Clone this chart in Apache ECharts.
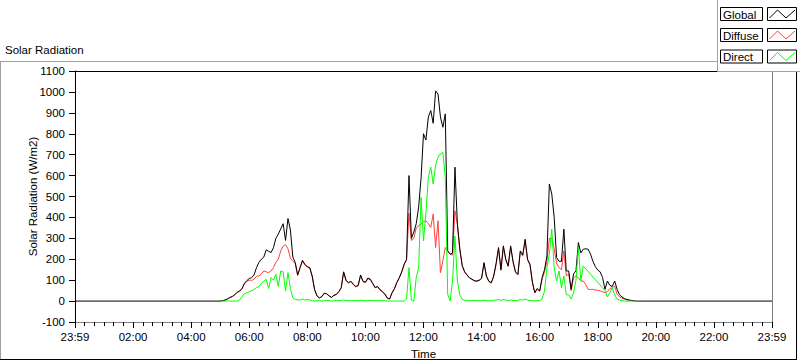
<!DOCTYPE html>
<html><head><meta charset="utf-8">
<script src="https://cdn.jsdelivr.net/npm/echarts@6/dist/echarts.min.js"></script>
<style>html,body{margin:0;padding:0;background:#fff}#c{width:800px;height:361px}</style>
</head><body><div id="c"></div>
<script>
// time of day in minutes (0 = 23:59 of previous day, 1440 = 23:59)
const timeMin = [0,
 300,305,310,315,320,325,330,335,340,345,350,355,
 360,365,370,375,380,385,390,395,400,405,410,415,
 420,425,430,435,440,445,450,455,460,465,470,475,
 480,485,490,495,500,505,510,515,520,525,530,535,
 540,545,550,555,560,565,570,575,580,585,590,595,
 600,605,610,615,620,625,630,635,640,645,650,655,
 660,665,670,675,680,685,690,695,700,705,710,715,
 720,725,730,735,740,745,750,755,760,765,770,775,
 780,785,790,795,800,805,810,815,820,825,830,835,
 840,845,850,855,860,865,870,875,880,885,890,895,
 900,905,910,915,920,925,930,935,940,945,950,955,
 960,965,970,975,980,985,990,995,1000,1005,1010,1015,
 1020,1025,1030,1035,1040,1045,1050,1055,1060,1065,1070,1075,
 1080,1085,1090,1095,1100,1105,1110,1115,1120,1125,1130,1135,
 1140,1145,1150,1155,1160,1165,1170,
 1440];

const globalRad = [0,
 0,2,5,10,17,22,30,42,48,60,85,98,
 108,112,125,160,185,200,210,245,238,232,255,300,
 320,345,370,290,395,340,210,185,125,160,195,175,
 165,160,120,55,25,15,22,38,35,25,18,28,
 32,45,64,140,100,88,95,80,70,75,125,95,
 90,110,105,85,65,70,55,45,35,15,10,40,
 60,90,112,140,176,200,600,300,330,370,450,590,
 800,770,880,911,850,1005,990,880,831,895,240,224,
 230,640,368,250,170,140,125,112,105,98,96,100,
 110,184,120,95,88,120,180,256,150,264,200,168,
 264,190,140,128,240,220,296,200,176,90,40,60,
 48,112,150,216,560,512,400,208,190,190,344,144,
 144,56,130,145,280,230,248,250,248,225,190,165,
 148,140,112,56,96,75,70,96,56,30,20,12,
 8,5,3,1,0,0,0,
 0];

const diffuseRad = [null,
 0,2,5,10,17,22,30,42,47,58,82,95,
 100,99,105,118,120,130,144,140,136,144,160,185,
 200,240,262,270,250,205,190,180,122,158,192,172,
 162,158,118,53,24,14,21,37,34,24,17,27,
 31,44,62,137,97,86,93,78,68,73,122,93,
 88,107,102,83,63,68,53,44,34,14,9,38,
 58,88,110,138,173,196,420,290,300,350,360,368,
 380,384,370,352,416,256,384,136,192,256,240,224,
 220,432,368,245,168,138,123,110,103,96,94,98,
 107,180,117,93,86,117,176,250,147,258,196,165,
 258,186,137,125,235,215,290,196,172,88,39,58,
 47,105,140,190,300,300,250,180,160,150,240,120,
 130,50,110,120,112,96,96,80,56,56,56,52,
 52,48,45,40,45,60,64,72,32,20,14,10,
 6,4,2,1,null,null,null,
 null];

const directRad = [null,
 0,0,0,0,0,0,0,0,5,20,35,40,
 45,50,55,64,70,85,95,104,60,112,100,128,
 70,144,140,48,136,60,16,8,6,5,10,5,
 8,5,3,0,2,2,0,2,3,2,0,2,
 2,3,3,5,3,2,2,3,2,2,4,2,
 2,2,3,2,2,2,2,2,2,0,0,0,
 0,0,0,0,0,10,160,5,0,112,160,496,
 288,420,592,640,560,650,688,704,711,592,32,0,
 96,310,96,30,8,4,3,2,2,3,2,2,
 2,4,2,2,2,4,5,8,3,8,5,3,
 5,3,2,3,8,5,10,4,3,2,1,2,
 2,10,48,160,224,344,160,96,144,64,120,30,
 30,10,40,100,256,96,168,null,null,null,null,null,
 null,null,null,50,20,40,64,30,10,5,3,0,
 0,0,0,0,null,null,null,
 null];

const seriesNames = ['Global', 'Diffuse', 'Direct'];
const seriesColors = ['#000000', '#ff4040', '#00ff00'];
const seriesZ = [3, 2, 4];
const yTicks = {min: -100, max: 1100, step: 100};
const xTicks = {min: 0, max: 1440, step: 120};

const FONT = '"Liberation Sans", Arial, sans-serif';
const chart = echarts.init(document.getElementById('c'), null, {renderer: 'svg'});

function pair(arr) { return timeMin.map((t, i) => [t, arr[i]]); }
const allData = [globalRad, diffuseRad, directRad];

function fmtTime(v) {
  if (v === xTicks.min || v === xTicks.max) return '23:59';
  const h = Math.round(v / 60);
  return (h < 10 ? '0' : '') + h + ':00';
}

const legendRowsY = [7.5, 28.5, 50];
const legendGraphics = [
  {type: 'rect', z: 100, shape: {x: 717.5, y: -1, width: 84, height: 72.5}, style: {fill: '#fff', stroke: '#a0a0a0', lineWidth: 1}}
];
seriesNames.forEach((n, i) => {
  const y = legendRowsY[i];
  legendGraphics.push(
    {type: 'rect', z: 101, shape: {x: 720.5, y: y, width: 42, height: 13}, style: {fill: '#fff', stroke: '#000', lineWidth: 1}},
    {type: 'text', z: 102, style: {text: n, x: 723, y: y + 7, font: '11.5px ' + FONT, fill: '#000', verticalAlign: 'middle'}},
    {type: 'rect', z: 101, shape: {x: 767.5, y: y, width: 29, height: 13}, style: {fill: '#fff', stroke: '#000', lineWidth: 1}},
    {type: 'polyline', z: 102, shape: {points: [[769.5, y + 10.5], [777.5, y + 2.5], [786, y + 10.5], [795, y + 2.5]]}, style: {fill: 'none', stroke: seriesColors[i], lineWidth: 1}}
  );
});

const frameGraphics = [
  {type: 'line', z: 50, shape: {x1: 0.5, y1: 61.5, x2: 0.5, y2: 359.5}, style: {stroke: '#a0a0a0', lineWidth: 1}},
  {type: 'line', z: 50, shape: {x1: 0, y1: 61.5, x2: 796, y2: 61.5}, style: {stroke: '#a0a0a0', lineWidth: 1}},
  {type: 'line', z: 50, shape: {x1: 796.5, y1: 61, x2: 796.5, y2: 360}, style: {stroke: '#000', lineWidth: 1}},
  {type: 'line', z: 50, shape: {x1: 0, y1: 359.5, x2: 797, y2: 359.5}, style: {stroke: '#000', lineWidth: 1}}
];

chart.setOption({
  animation: false,
  backgroundColor: '#fff',
  title: {text: 'Solar Radiation', left: 5, top: 44, padding: 0, textStyle: {fontSize: 11.5, fontWeight: 'normal', color: '#000', fontFamily: FONT}},
  grid: {left: 75, right: 28, top: 71, bottom: 39, containLabel: false, outerBoundsMode: 'none'},
  xAxis: [{
    type: 'value', min: xTicks.min, max: xTicks.max, interval: xTicks.step,
    name: 'Time', nameLocation: 'middle', nameGap: 26, nameMoveOverlap: false,
    nameTextStyle: {fontSize: 11.5, color: '#000', fontFamily: FONT},
    axisLine: {onZero: false, lineStyle: {color: '#808080', width: 1}},
    axisTick: {show: true, length: 6, lineStyle: {color: '#000'}},
    minorTick: {show: true, splitNumber: 6, length: 4, lineStyle: {color: '#000'}},
    splitLine: {show: false},
    axisLabel: {formatter: fmtTime, margin: 9, fontSize: 11.5, color: '#000', fontFamily: FONT, showMinLabel: true, showMaxLabel: true}
  }, {
    type: 'value', position: 'top', min: xTicks.min, max: xTicks.max,
    axisLine: {onZero: false, lineStyle: {color: '#000', width: 1}},
    axisTick: {show: false}, axisLabel: {show: false}, splitLine: {show: false}
  }],
  yAxis: [{
    type: 'value', min: yTicks.min, max: yTicks.max, interval: yTicks.step,
    name: 'Solar Radiation (W/m2)', nameLocation: 'middle', nameGap: 36, nameMoveOverlap: false,
    nameTextStyle: {fontSize: 11.5, color: '#000', fontFamily: FONT},
    axisLine: {show: true, onZero: false, lineStyle: {color: '#000', width: 1}},
    axisTick: {show: true, length: 6, lineStyle: {color: '#000'}},
    splitLine: {show: false},
    axisLabel: {formatter: v => String(v), margin: 10, fontSize: 11.5, color: '#000', fontFamily: FONT}
  }, {
    type: 'value', position: 'right', min: yTicks.min, max: yTicks.max,
    axisLine: {show: true, onZero: false, lineStyle: {color: '#808080', width: 1}},
    axisTick: {show: false}, axisLabel: {show: false}, splitLine: {show: false}
  }],
  series: seriesNames.map((n, i) => ({
    name: n, type: 'line', xAxisIndex: 0, yAxisIndex: 0,
    data: pair(allData[i]),
    symbol: 'none', showSymbol: false, connectNulls: i === 2,
    lineStyle: {color: seriesColors[i], width: 1},
    itemStyle: {color: seriesColors[i]},
    z: seriesZ[i]
  })),
  graphic: frameGraphics.concat(legendGraphics)
});
</script></body></html>
